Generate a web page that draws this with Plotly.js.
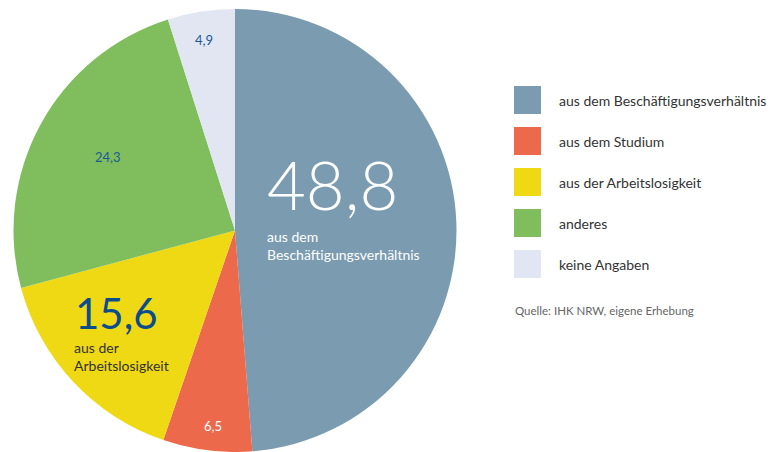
<!DOCTYPE html>
<html><head><meta charset="utf-8">
<script src="https://cdn.plot.ly/plotly-3.0.1.min.js"></script>
<style>html,body{margin:0;padding:0;background:#fff}#chart{width:772px;height:452px}</style>
</head><body><div id="chart"></div>
<script>
const categories = ["aus dem Beschäftigungsverhältnis","aus dem Studium","aus der Arbeitslosigkeit","anderes","keine Angaben"];
const values = [48.8, 6.5, 15.6, 24.3, 4.9];
const valueLabels = ["48,8","6,5","15,6","24,3","4,9"];
const colors = ["#7a9bb0","#ec694b","#efd915","#80bd5d","#e2e6f2"];
const sourceText = "Quelle: IHK NRW, eigene Erhebung";

const W = 772, H = 452;
const px = x => x / W, py = y => 1 - y / H;
const FONT = "Lato, 'Noto Sans', sans-serif";

const trace = {
  type: "pie", values: values, labels: categories, sort: false, direction: "clockwise", rotation: 0,
  marker: {colors: colors, line: {width: 0}}, textinfo: "none", hoverinfo: "label+value",
  domain: {x: [px(13), px(457)], y: [py(453), py(9)]}, showlegend: false
};

const annotations = [];
const shapes = [];
// legend
categories.forEach((c, i) => {
  const yc = 100 + i * 41;
  shapes.push({type: "rect", xref: "paper", yref: "paper", x0: px(514), x1: px(541), y0: py(yc + 14), y1: py(yc - 14), fillcolor: colors[i], line: {width: 0}});
  annotations.push({xref: "paper", yref: "paper", x: px(557), y: py(yc), text: c, showarrow: false, xanchor: "left", yanchor: "middle", font: {family: FONT, size: 14, color: "#333"}});
});
annotations.push({xref: "paper", yref: "paper", x: px(513), y: py(310), text: sourceText, showarrow: false, xanchor: "left", yanchor: "middle", font: {family: FONT, size: 11.5, color: "#666"}});

// slice labels
const big = (t, x, y, size, color, w) => ({xref: "paper", yref: "paper", x: px(x), y: py(y), text: t, showarrow: false, xanchor: "left", yanchor: "middle", font: {family: FONT, size: size, color: color, weight: w}});
annotations.push(big(valueLabels[0], 265, 184, 67, "#ffffff", 300));
annotations.push({xref: "paper", yref: "paper", x: px(265), y: py(226), text: "aus dem<br>Beschäftigungsverhältnis", showarrow: false, xanchor: "left", yanchor: "top", align: "left", font: {family: FONT, size: 14, color: "#ffffff"}});
annotations.push(big(valueLabels[2], 73, 313, 42, "#0b4c8c", 400));
annotations.push({xref: "paper", yref: "paper", x: px(72), y: py(337), text: "aus der<br>Arbeitslosigkeit", showarrow: false, xanchor: "left", yanchor: "top", align: "left", font: {family: FONT, size: 14, color: "#333"}});
const small = (t, x, y, color) => ({xref: "paper", yref: "paper", x: px(x), y: py(y), text: t, showarrow: false, xanchor: "center", yanchor: "middle", font: {family: FONT, size: 13, color: color}});
annotations.push(small(valueLabels[1], 213, 426, "#ffffff"));
annotations.push(small(valueLabels[3], 108, 157, "#1a5a96"));
annotations.push(small(valueLabels[4], 204, 40, "#1a5a96"));

Plotly.newPlot("chart", [trace], {
  width: W, height: H, margin: {l: 0, r: 0, t: 0, b: 0}, paper_bgcolor: "#fff", showlegend: false,
  shapes: shapes, annotations: annotations
}, {displayModeBar: false, staticPlot: true});
</script></body></html>
